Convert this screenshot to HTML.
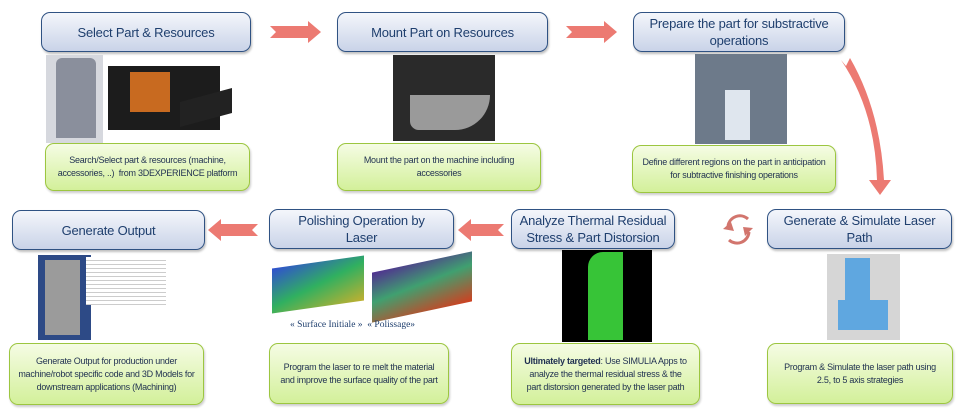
<!DOCTYPE html>
<html><head><meta charset="utf-8"><style>
body{margin:0;width:960px;height:409px;background:#fff;position:relative;overflow:hidden;font-family:"Liberation Sans",sans-serif;}
.h{position:absolute;box-sizing:border-box;border:1.5px solid #2f5283;border-radius:9px;background:linear-gradient(#f4f6fb,#c9d3e8);color:#1f3f6e;font-size:13px;letter-spacing:-0.2px;display:flex;align-items:center;justify-content:center;text-align:center;line-height:17px;box-shadow:1px 2px 2px rgba(0,0,0,.25);white-space:nowrap;}
.g{position:absolute;box-sizing:border-box;border:1.5px solid #9cc640;border-radius:9px;background:linear-gradient(#f5fce4,#d3f09a);color:#1f3050;font-size:9px;letter-spacing:-0.25px;display:flex;align-items:center;justify-content:center;text-align:center;line-height:13px;box-shadow:1px 2px 2px rgba(0,0,0,.2);white-space:nowrap;}
.i{position:absolute;}
</style></head><body>
<div class="h" style="left:41px;top:12px;width:210px;height:40px">Select Part &amp; Resources</div>
<div class="h" style="left:337px;top:12px;width:211px;height:40px">Mount Part on Resources</div>
<div class="h" style="left:633px;top:12px;width:212px;height:40px">Prepare the part for substractive<br>operations</div>
<div class="h" style="left:12px;top:210px;width:193px;height:40px">Generate Output</div>
<div class="h" style="left:269px;top:209px;width:185px;height:40px">Polishing Operation by<br>Laser</div>
<div class="h" style="left:511px;top:209px;width:164px;height:40px">Analyze Thermal Residual<br>Stress &amp; Part Distorsion</div>
<div class="h" style="left:767px;top:209px;width:185px;height:40px">Generate &amp; Simulate Laser<br>Path</div>

<div class="g" style="left:45px;top:143px;width:205px;height:48px">Search/Select part &amp; resources (machine,<br>accessories, ..)&nbsp; from 3DEXPERIENCE platform</div>
<div class="g" style="left:337px;top:143px;width:204px;height:48px">Mount the part on the machine including<br>accessories</div>
<div class="g" style="left:632px;top:145px;width:204px;height:48px">Define different regions on the part in anticipation<br>for subtractive finishing operations</div>
<div class="g" style="left:9px;top:343px;width:195px;height:62px">Generate Output for production under<br>machine/robot specific code and 3D Models for<br>downstream applications (Machining)</div>
<div class="g" style="left:269px;top:343px;width:180px;height:61px">Program the laser to re melt the material<br>and improve the surface quality of the part</div>
<div class="g" style="left:511px;top:343px;width:189px;height:62px"><span><b>Ultimately targeted</b>: Use SIMULIA Apps to<br>analyze the thermal residual stress &amp; the<br>part distorsion generated by the laser path</span></div>
<div class="g" style="left:767px;top:343px;width:186px;height:61px">Program &amp; Simulate the laser path using<br>2.5, to 5 axis strategies</div>

<!-- images -->
<div class="i" style="left:46px;top:55px;width:57px;height:88px;background:#d6d8de"></div>
<div class="i" style="left:56px;top:58px;width:40px;height:80px;background:#8a8f9c;border-radius:6px 6px 0 0"></div>
<div class="i" style="left:108px;top:66px;width:112px;height:64px;background:#1c1c1c"></div>
<div class="i" style="left:180px;top:95px;width:52px;height:25px;background:#222;transform:skewY(-15deg)"></div>
<div class="i" style="left:130px;top:72px;width:40px;height:40px;background:#c86a20"></div>
<div class="i" style="left:393px;top:55px;width:102px;height:86px;background:#2a2a2a"></div>
<div class="i" style="left:410px;top:95px;width:80px;height:35px;background:#9a9a9a;border-radius:0 0 40px 10px"></div>
<div class="i" style="left:695px;top:54px;width:92px;height:90px;background:#6d7a8a"></div>
<div class="i" style="left:725px;top:90px;width:25px;height:50px;background:#dfe6ee"></div>
<div class="i" style="left:38px;top:255px;width:53px;height:85px;background:#2d4a86"></div>
<div class="i" style="left:45px;top:260px;width:35px;height:75px;background:#9b9b9b"></div>
<div class="i" style="left:86px;top:257px;width:80px;height:48px;background:repeating-linear-gradient(#fff 0 3px,#ccc 3px 4px)"></div>
<div class="i" style="left:272px;top:262px;width:92px;height:45px;background:linear-gradient(160deg,#3050d0,#30b060 50%,#c0b030);transform:skewY(-8deg)"></div>
<div class="i" style="left:372px;top:262px;width:100px;height:50px;background:linear-gradient(170deg,#503090,#40a070 45%,#d04020);transform:skewY(-12deg)"></div>
<div class="i" style="left:290px;top:320px;font-family:'Liberation Serif',serif;font-size:9.5px;color:#1f3f6e">« Surface Initiale »&nbsp;&nbsp;« Polissage»</div>
<div class="i" style="left:562px;top:250px;width:90px;height:92px;background:#000"></div>
<div class="i" style="left:588px;top:252px;width:35px;height:88px;background:#37c437;border-radius:15px 0 0 0"></div>
<div class="i" style="left:827px;top:254px;width:73px;height:86px;background:#d6d6d6"></div>
<div class="i" style="left:845px;top:258px;width:25px;height:65px;background:#5fa7e0"></div>
<div class="i" style="left:838px;top:300px;width:50px;height:30px;background:#5fa7e0"></div>

<svg class="i" style="left:0;top:0" width="960" height="409">
<g fill="#ec7a72">
<polygon points="270,26 308,26 308,21 321,32 308,43 308,38 270,38 276,32"/>
<polygon points="566,26 604,26 604,21 617,32 604,43 604,38 566,38 572,32"/>
<polygon points="258,224 221,224 221,219 208,230 221,241 221,236 258,236 252,230"/>
<polygon points="504,224 471,224 471,219 458,230 471,241 471,236 504,236 498,230"/>
<path d="M841,60 Q875,110 877,180 L869,180 L880,195 L891,180 L884,180 Q880,110 850,58 L846,66 Z"/>
</g>
<g fill="none" stroke="#d2756d" stroke-width="3">
<path d="M728,226 A12,12 0 0 1 748,219"/>
<path d="M749,232 A12,12 0 0 1 729,240"/>
</g>
<polygon points="723,229 731,222 734,231" fill="#d2756d"/>
<polygon points="753,228 745,236 743,227" fill="#d2756d"/>
</svg>
</body></html>
